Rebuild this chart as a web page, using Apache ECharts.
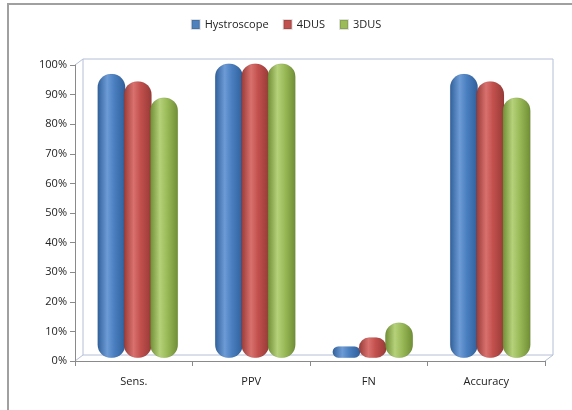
<!DOCTYPE html>
<html><head><meta charset="utf-8">
<script src="https://cdn.jsdelivr.net/npm/echarts@6/dist/echarts.min.js"></script>
<style>
html,body{margin:0;padding:0;background:#fff;overflow:hidden;width:572px;height:410px}
#c{position:absolute;left:0;top:0;width:572px;height:410px}
#frame{position:absolute;left:7px;top:3px;width:600px;height:500px;border-top:2px solid #a0a0a0;border-left:2px solid #a0a0a0;pointer-events:none}
</style>
</head><body><div id="c"></div><div id="frame"></div>
<script>
const categories = ['Sens.', 'PPV', 'FN', 'Accuracy'];
const hystroscope = [96, 99.5, 4, 96];
const dus4 = [93.5, 99.5, 7, 93.5];
const dus3 = [88, 99.5, 12, 88];
const seriesNames = ['Hystroscope', '4DUS', '3DUS'];
const yTicks = [0, 10, 20, 30, 40, 50, 60, 70, 80, 90, 100];

function grad(dark, mid, light) {
  return new echarts.graphic.LinearGradient(0, 0, 1, 0, [
    {offset: 0, color: dark}, {offset: 0.35, color: light},
    {offset: 0.6, color: mid}, {offset: 1, color: dark}
  ]);
}
const fills = [
  grad('#2f5f9a', '#4a7fc0', '#6d9bd6'),
  grad('#963a37', '#c2504d', '#d9716e'),
  grad('#6f8d34', '#9bbb59', '#b5d17a')
];
const solid = ['#4F81BD', '#C0504D', '#9BBB59'];
const data = [hystroscope, dus4, dus3];

const chart = echarts.init(document.getElementById('c'));
const G = {left: 75, right: 27, top: 65, bottom: 49};
const dx = 8, dy = -6;
const font = '"Open Sans", "Noto Sans", sans-serif';
const x0 = G.left, x1 = 572 - G.right, y0 = G.top, y1 = 410 - G.bottom;
const wall = {stroke: '#b4bfd6', lineWidth: 1};
chart.setOption({
  animation: false,
  legend: {
    top: 14, left: 'center', itemWidth: 8, itemHeight: 9, itemGap: 14,
    textStyle: {fontFamily: font, fontSize: 11, color: '#222'},
    data: seriesNames.map((n, i) => ({name: n, icon: 'rect', itemStyle: {color: solid[i]}}))
  },
  grid: [G, {left: G.left + dx / 2, right: G.right - dx / 2, top: G.top + dy / 2, bottom: G.bottom - dy / 2}],
  xAxis: [{
    type: 'category', data: categories, gridIndex: 0,
    axisLine: {lineStyle: {color: '#8a8a8a'}},
    axisTick: {show: true, length: 5, lineStyle: {color: '#8a8a8a'}},
    axisLabel: {fontFamily: font, fontSize: 11, color: '#222', margin: 15}
  }, {
    type: 'category', data: categories, gridIndex: 1, show: false
  }],
  yAxis: [{
    type: 'value', min: 0, max: 100, interval: 10, gridIndex: 0,
    axisLine: {show: true, lineStyle: {color: '#8a8a8a'}},
    axisTick: {show: true, length: 5, lineStyle: {color: '#8a8a8a'}},
    splitLine: {show: false},
    axisLabel: {fontFamily: font, fontSize: 11, color: '#222', margin: 8,
      formatter: v => yTicks.includes(v) ? v + '%' : ''}
  }, {
    type: 'value', min: 0, max: 100, gridIndex: 1, show: false, splitLine: {show: false}
  }],
  series: seriesNames.map((n, i) => ({
    name: n, type: 'bar', data: data[i], barWidth: 28, barGap: '-6%',
    xAxisIndex: 1, yAxisIndex: 1,
    itemStyle: {color: fills[i], borderRadius: 13, borderColor: 'rgba(0,0,0,0.12)', borderWidth: 0.5}
  })),
  graphic: [
    {type: 'polyline', shape: {points: [[x0 + dx, y1 + dy], [x0 + dx, y0 + dy], [x1 + dx, y0 + dy], [x1 + dx, y1 + dy], [x0 + dx, y1 + dy]]}, style: wall, silent: true, z: -1},
    {type: 'line', shape: {x1: x0, y1: y0, x2: x0 + dx, y2: y0 + dy}, style: wall, silent: true, z: -1},
    {type: 'line', shape: {x1: x0, y1: y1, x2: x0 + dx, y2: y1 + dy}, style: wall, silent: true, z: -1},
    {type: 'line', shape: {x1: x1, y1: y1, x2: x1 + dx, y2: y1 + dy}, style: wall, silent: true, z: -1}
  ]
});
</script></body></html>
